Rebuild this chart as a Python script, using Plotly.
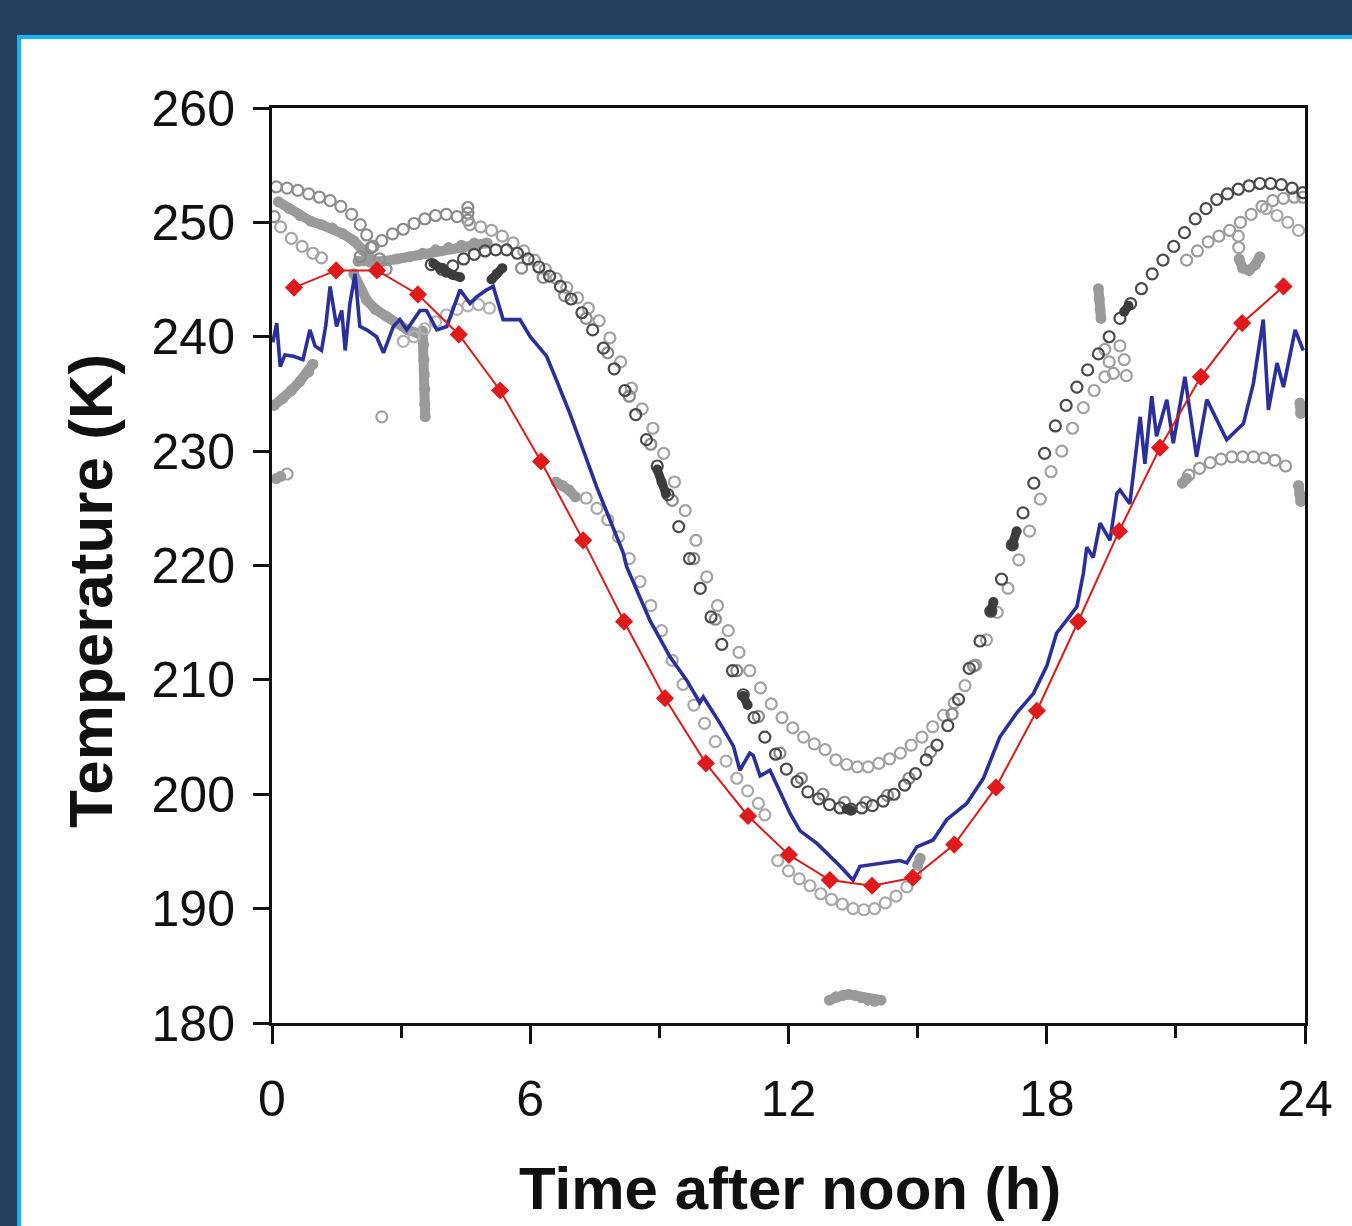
import plotly.graph_objects as go

# ---------------- data ----------------
# Red model curve with diamonds
red_x = [0.51, 1.49, 2.44, 3.39, 4.34, 5.30, 6.25, 7.23, 8.18, 9.13, 10.08, 11.06, 12.01,
         12.96, 13.94, 14.89, 15.85, 16.82, 17.77, 18.73, 19.68, 20.63, 21.58, 22.54, 23.50]
red_y = [244.3, 245.8, 245.8, 243.7, 240.2, 235.3, 229.1, 222.2, 215.1, 208.4, 202.7, 198.1, 194.7,
         192.5, 192.0, 192.7, 195.6, 200.6, 207.3, 215.1, 223.0, 230.3, 236.5, 241.2, 244.4]

# Blue measured curve
blue_x = [0.02, 0.11, 0.19, 0.30, 0.50, 0.72, 0.88, 1.00, 1.15, 1.25, 1.35, 1.50, 1.62, 1.70, 1.81,
          1.93, 2.04, 2.20, 2.43, 2.59, 2.82, 2.97, 3.13, 3.44, 3.59, 3.83, 4.06, 4.37, 4.60,
          4.76, 4.99, 5.14, 5.37, 5.76, 6.00, 6.38, 6.61, 6.92, 7.23, 7.54, 7.85, 8.16, 8.24,
          8.78, 9.25, 9.63, 9.94, 10.02, 10.41, 10.72, 10.87, 11.10, 11.18, 11.34, 11.57, 11.80,
          12.04, 12.27, 12.66, 13.20, 13.50, 13.66, 14.28, 14.59, 14.75, 14.98, 15.36, 15.68,
          16.14, 16.53, 16.76, 16.91, 17.30, 17.69, 18.00, 18.23, 18.46, 18.70, 18.85, 18.93,
          19.08, 19.24, 19.47, 19.63, 19.70, 19.86, 19.93, 20.17, 20.28, 20.44, 20.55, 20.79,
          20.94, 21.21, 21.48, 21.72, 21.95, 22.18, 22.57, 22.80, 23.03, 23.15, 23.35, 23.50,
          23.77, 23.96]
blue_y = [239.5, 241.2, 237.4, 238.4, 238.3, 238.0, 240.6, 239.2, 238.8, 241.0, 244.4, 240.9, 242.3,
          238.8, 242.9, 245.5, 240.9, 240.6, 240.0, 238.6, 240.9, 241.5, 240.6, 242.3, 242.3, 240.6,
          240.9, 244.1, 242.9, 243.5, 244.1, 244.4, 241.5, 241.5, 240.0, 238.3, 236.2, 233.3, 230.1,
          226.9, 224.0, 221.1, 219.9, 215.2, 212.0, 210.0, 208.0, 208.5, 206.2, 204.2, 202.1, 203.6,
          203.4, 201.6, 202.1, 200.2, 198.3, 196.8, 195.7, 193.7, 192.5, 193.7, 194.0, 194.2, 194.0,
          195.4, 196.0, 197.8, 199.2, 201.4, 203.6, 205.0, 207.1, 208.8, 211.2, 214.1, 215.2, 216.4,
          219.3, 221.6, 220.7, 223.7, 222.2, 226.3, 226.6, 225.7, 225.4, 233.0, 228.9, 234.8, 231.3,
          234.5, 230.7, 236.5, 229.5, 234.5, 232.7, 231.0, 232.4, 235.9, 241.5, 233.6, 237.7, 235.6,
          240.6, 238.8]

# Grey open-circle arcs (other observations)
dark_x = [3.70, 3.95, 4.20, 4.45, 4.70, 4.95, 5.20, 5.45, 5.70, 5.95, 6.20, 6.45, 6.70, 6.95, 7.20,
          7.45, 7.70, 7.95, 8.20, 8.45, 8.70, 8.95, 9.20, 9.45, 9.70, 9.95, 10.20, 10.45, 10.70,
          10.95, 11.20, 11.45, 11.70, 11.95, 12.20, 12.45, 12.70, 12.95, 13.20, 13.45, 13.70,
          13.95, 14.20, 14.45, 14.70, 14.95, 15.20, 15.45, 15.70, 15.95, 16.20, 16.45, 16.70,
          16.95, 17.20, 17.45, 17.70, 17.95, 18.20, 18.45, 18.70, 18.95, 19.20, 19.45, 19.70,
          19.95, 20.20, 20.45, 20.70, 20.95, 21.20, 21.45, 21.70, 21.95, 22.20, 22.45, 22.70,
          22.95, 23.20, 23.45, 23.70, 23.95]
dark_y = [246.3, 245.9, 246.2, 246.8, 247.2, 247.5, 247.6, 247.6, 247.3, 246.8, 246.1, 245.3, 244.4,
          243.3, 242.1, 240.6, 239.0, 237.2, 235.3, 233.2, 231.0, 228.7, 226.2, 223.4, 220.6, 218.0,
          215.5, 213.1, 210.8, 208.7, 206.7, 205.0, 203.5, 202.2, 201.1, 200.2, 199.6, 199.1, 198.8,
          198.7, 198.8, 199.0, 199.4, 200.0, 200.8, 201.8, 203.0, 204.3, 206.0, 208.3, 211.0, 213.4,
          216.0, 218.8, 221.8, 224.6, 227.2, 229.8, 232.2, 234.0, 235.6, 237.1, 238.5, 240.0, 241.6,
          242.9, 244.2, 245.5, 246.7, 247.9, 249.1, 250.3, 251.2, 252.0, 252.5, 252.9, 253.2, 253.4,
          253.4, 253.3, 253.0, 252.6]

# second, slightly offset dark strand (double-plotted segments in the reference)
dark2_x = [5.80, 6.30, 6.80, 7.30, 7.80, 8.30, 8.80, 9.30, 9.80, 10.30, 10.80, 11.30, 11.80,
           12.30, 12.80, 13.30, 13.80, 14.30, 14.80, 15.30, 15.80, 16.30]
dark2_y = [246.0, 245.2, 243.6, 241.6, 238.6, 234.8, 230.6, 225.7, 220.6, 215.3, 210.8, 206.8,
           203.6, 201.4, 200.0, 199.3, 199.3, 199.9, 201.4, 203.7, 207.0, 211.2]

light_x = [4.60, 4.85, 5.10, 5.35, 5.60, 5.85, 6.10, 6.35, 6.60, 6.85, 7.10, 7.35, 7.60, 7.85, 8.10,
           8.35, 8.60, 8.85, 9.10, 9.35, 9.60, 9.85, 10.10, 10.35, 10.60, 10.85, 11.10, 11.35,
           11.60, 11.85, 12.10, 12.35, 12.60, 12.85, 13.10, 13.35, 13.60, 13.85, 14.10, 14.35,
           14.60, 14.85, 15.10, 15.35, 15.60, 15.85, 16.10, 16.35, 16.60, 16.85, 17.10, 17.35,
           17.60, 17.85, 18.10, 18.35, 18.60, 18.85, 19.10, 19.35]
light_y = [249.8, 249.6, 249.3, 248.8, 248.2, 247.5, 246.7, 245.9, 245.1, 244.3, 243.4, 242.5, 241.4,
           239.9, 237.8, 235.5, 233.7, 232.0, 229.8, 227.3, 224.8, 222.2, 219.0, 216.5, 214.3, 212.4,
           210.8, 209.3, 207.9, 206.7, 205.8, 205.0, 204.4, 203.9, 203.0, 202.6, 202.4, 202.4, 202.7,
           203.1, 203.6, 204.3, 205.0, 205.9, 206.9, 208.0, 209.5, 211.3, 213.5, 215.9, 218.0, 220.5,
           223.0, 225.8, 228.2, 230.0, 232.0, 233.8, 235.3, 236.5]

low_x = [7.30, 7.55, 7.80, 8.05, 8.30, 8.55, 8.80, 9.05, 9.30, 9.55, 9.80, 10.05, 10.30, 10.55,
         10.80, 11.05, 11.30, 11.45, 11.75, 12.00, 12.25, 12.50, 12.75, 13.00, 13.25, 13.50,
         13.75, 14.00, 14.25, 14.50, 14.75, 14.95]
low_y = [225.9, 225.0, 224.0, 222.5, 220.6, 218.6, 216.5, 214.3, 211.7, 209.6, 207.8, 206.2, 204.6,
         202.9, 201.4, 200.3, 199.2, 198.2, 194.2, 193.3, 192.6, 192.0, 191.3, 190.8, 190.4, 190.0,
         189.9, 190.0, 190.5, 191.1, 191.9, 193.0]

ul1_x = [0.05, 0.10, 0.35, 0.60, 0.85, 1.10, 1.35, 1.60, 1.85, 2.05, 2.20, 2.35, 2.50, 2.65]
ul1_y = [250.5, 253.1, 253.0, 252.8, 252.5, 252.2, 251.9, 251.4, 250.7, 249.8, 248.9, 247.9, 246.8, 245.9]

ul4_x = [2.05, 2.30, 2.55, 2.80, 3.05, 3.30, 3.55, 3.80, 4.05, 4.30, 4.55, 4.55, 4.55]
ul4_y = [247.0, 247.8, 248.4, 249.0, 249.4, 249.9, 250.3, 250.6, 250.7, 250.5, 250.2, 250.8, 251.3]

ul3_x = [0.20, 0.45, 0.70, 0.95, 1.15]
ul3_y = [249.6, 248.6, 247.9, 247.3, 246.9]

mid_x = [3.05, 3.30, 3.55, 3.80, 4.05, 4.30, 4.55, 4.80, 5.05]
mid_y = [239.6, 240.0, 240.7, 241.3, 241.9, 242.4, 242.7, 242.8, 242.5]

ur2_x = [21.25, 21.50, 21.75, 22.00, 22.25, 22.50, 22.75, 23.00, 23.25, 23.50, 23.75, 23.95]
ur2_y = [246.7, 247.5, 248.3, 248.8, 249.3, 250.0, 250.7, 251.4, 251.9, 252.1, 252.2, 252.2]

ur3_x = [23.10, 23.35, 23.60, 23.85]
ur3_y = [251.2, 250.6, 250.0, 249.3]

lr_x = [21.30, 21.55, 21.80, 22.05, 22.30, 22.55, 22.80, 23.05, 23.30, 23.55]
lr_y = [227.9, 228.5, 229.0, 229.3, 229.5, 229.5, 229.5, 229.4, 229.2, 228.7]

cl_x = [19.35, 19.45, 19.55, 19.70, 19.80, 19.85, 2.55, 0.35, 22.45, 22.46]
cl_y = [238.9, 237.8, 236.8, 239.2, 238.0, 236.6, 233.0, 228.0, 248.8, 247.8]

# Grey filled blobs / bands
band_segments = [
    ([0.15, 0.40, 0.65, 0.90, 1.15, 1.40, 1.65, 1.90, 2.10, 2.30],
     [251.8, 251.2, 250.6, 250.1, 249.8, 249.5, 249.0, 248.4, 247.6, 246.8]),
    ([2.00, 2.30, 2.60, 2.90, 3.20, 3.50, 3.80, 4.10, 4.40, 4.70, 5.00],
     [246.6, 246.5, 246.6, 246.8, 247.0, 247.3, 247.6, 247.8, 248.0, 248.2, 248.2]),
    ([1.90, 2.05, 2.20, 2.40, 2.65, 2.90, 3.15, 3.40],
     [245.5, 244.2, 243.2, 242.4, 241.8, 241.2, 240.6, 240.3]),
    ([3.50, 3.52, 3.53, 3.54, 3.55, 3.55, 3.56],
     [240.5, 239.3, 238.0, 236.7, 235.4, 234.1, 233.0]),
    ([0.05, 0.25, 0.45, 0.65, 0.85, 0.95],
     [234.0, 234.6, 235.3, 236.1, 236.9, 237.6]),
    ([0.10, 0.20], [227.6, 227.8]),
    ([6.60, 6.75, 6.90, 7.05], [227.3, 227.0, 226.6, 226.0]),
    ([12.95, 13.10, 13.25, 13.40, 13.55, 13.70, 13.85, 14.00, 14.15],
     [182.0, 182.3, 182.4, 182.5, 182.4, 182.2, 182.0, 181.9, 182.0]),
    ([19.20, 19.22, 19.24, 19.26], [244.2, 243.3, 242.4, 241.6]),
    ([22.47, 22.55, 22.70, 22.85, 22.95], [246.8, 246.0, 245.8, 246.3, 247.0]),
    ([21.15, 21.25], [227.2, 227.6]),
    ([23.85, 23.88, 23.90], [227.0, 226.2, 225.6]),
    ([23.88, 23.90], [234.2, 233.3]),
    ([15.00, 15.06], [193.8, 194.4]),
]
dark_fill_segments = [
    ([3.75, 3.90, 4.05, 4.20, 4.37], [246.4, 246.0, 245.6, 245.4, 245.2]),
    ([5.10, 5.22, 5.35], [245.0, 245.5, 246.0]),
    ([8.95, 9.05, 9.15], [228.4, 227.3, 226.3]),
    ([10.95, 11.05], [208.6, 207.8]),
    ([13.35, 13.45], [198.7, 198.6]),
    ([16.70, 16.76], [216.0, 216.8]),
    ([17.20, 17.30], [221.8, 223.0]),
    ([19.80, 19.90], [242.2, 242.7]),
]

x_ticks = [0, 6, 12, 18, 24]
x_minor = [3, 9, 15, 21]
y_ticks = [180, 190, 200, 210, 220, 230, 240, 250, 260]

# ---------------- figure ----------------
fig = go.Figure()

def circles(x, y, color, size=11):
    fig.add_trace(go.Scatter(x=x, y=y, mode="markers", showlegend=False, hoverinfo="skip",
                             marker=dict(symbol="circle-open", size=size, color=color,
                                         line=dict(width=2.2, color=color))))

def blob(x, y, color, size=11):
    fig.add_trace(go.Scatter(x=x, y=y, mode="lines+markers", showlegend=False, hoverinfo="skip",
                             line=dict(color=color, width=size - 1),
                             marker=dict(symbol="circle", size=size, color=color)))

for sx, sy in band_segments:
    blob(sx, sy, "#9a9a9a")
circles(ul1_x, ul1_y, "#8e8e8e")
circles(ul3_x, ul3_y, "#a5a5a5")
circles(ul4_x, ul4_y, "#8a8a8a")
circles(mid_x, mid_y, "#b0b0b0")
circles(light_x, light_y, "#a2a2a2")
circles(low_x, low_y, "#a8a8a8")
circles(ur2_x, ur2_y, "#9c9c9c")
circles(ur3_x, ur3_y, "#a8a8a8")
circles(lr_x, lr_y, "#9a9a9a")
circles(cl_x, cl_y, "#a0a0a0")
circles(dark2_x, dark2_y, "#8a8a8a")
circles(dark_x, dark_y, "#4a4a4a")
for sx, sy in dark_fill_segments:
    blob(sx, sy, "#3c3c3c", size=10)

fig.add_trace(go.Scatter(x=blue_x, y=blue_y, mode="lines", showlegend=False,
                         line=dict(color="#2a2f9c", width=3.6)))
fig.add_trace(go.Scatter(x=red_x, y=red_y, mode="lines+markers", showlegend=False,
                         line=dict(color="#d91c1c", width=2),
                         marker=dict(symbol="diamond", size=14, color="#e01a1a")))

W, H = 1352, 1226
L, R, T, B = 272, 47, 108, 203
pw, ph = W - L - R, H - T - B

def px_x(p):
    return (p - L) / pw

def px_y(p):
    return (H - B - p) / ph

fig.add_shape(type="rect", xref="paper", yref="paper", layer="below",
              x0=px_x(19), x1=px_x(1380), y0=px_y(1260), y1=px_y(37),
              fillcolor="white", line=dict(color="#19b4f0", width=4))

font_main = "Liberation Sans, Arial, sans-serif"
fig.add_annotation(text="<b>Time after noon (h)</b>", xref="paper", yref="paper",
                   x=px_x(790), y=px_y(1188), showarrow=False,
                   font=dict(family=font_main, size=60, color="#111111"),
                   xanchor="center", yanchor="middle")
fig.add_annotation(text="<b>Temperature (K)</b>", xref="paper", yref="paper",
                   x=px_x(90), y=px_y(591), showarrow=False, textangle=-90,
                   font=dict(family=font_main, size=62, color="#111111"),
                   xanchor="center", yanchor="middle")

fig.update_layout(
    width=W, height=H,
    margin=dict(l=L, r=R, t=T, b=B, pad=0),
    paper_bgcolor="#263f5e", plot_bgcolor="rgba(0,0,0,0)",
    font=dict(family=font_main, color="#111111"),
    xaxis=dict(range=[0, 24], tickvals=x_ticks, ticktext=[str(v) for v in x_ticks],
               ticks="outside", ticklen=18, tickwidth=3, tickcolor="#111111",
               showline=True, linewidth=3, linecolor="#111111", mirror=True,
               showgrid=False, zeroline=False, ticklabelstandoff=12,
               tickfont=dict(size=50, color="#111111"),
               minor=dict(tickvals=x_minor, ticks="outside", ticklen=12, tickwidth=3,
                          tickcolor="#111111", showgrid=False)),
    yaxis=dict(range=[180, 260], tickvals=y_ticks,
               ticks="outside", ticklen=16, tickwidth=3, tickcolor="#111111",
               showline=True, linewidth=3, linecolor="#111111", mirror=True,
               showgrid=False, zeroline=False, ticklabelstandoff=8,
               tickfont=dict(size=50, color="#111111")),
)

fig.write_html("out.html", config={"displayModeBar": False},
               post_script="document.body.style.margin='0';")
